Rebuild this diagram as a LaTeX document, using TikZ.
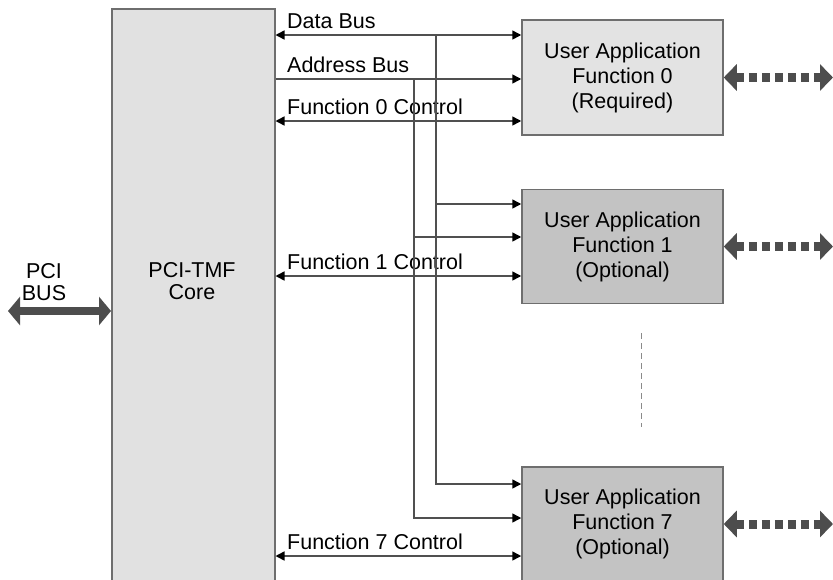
\documentclass[tikz,border=0pt]{standalone}
\usepackage{fontspec}
\setmainfont{Liberation Sans}
\usetikzlibrary{arrows.meta,positioning}
\definecolor{coregray}{HTML}{E1E1E1}
\definecolor{reqgray}{HTML}{E3E3E3}
\definecolor{optgray}{HTML}{C3C3C3}
\definecolor{edgegray}{HTML}{6E6E6E}
\definecolor{linegray}{HTML}{505050}
\definecolor{extgray}{HTML}{4D4D4D}
\definecolor{dotgray}{HTML}{8A8A8A}
\tikzset{
  ubox/.style={draw=edgegray, line width=1.5pt, minimum width=201pt, minimum height=115pt, inner sep=0pt, align=center},
  bus/.style={draw=linegray, line width=1.5pt},
  onearr/.style={-{Triangle[length=9pt,width=9pt,color=black]}},
  twoarr/.style={{Triangle[length=9pt,width=9pt,color=black]}-{Triangle[length=9pt,width=9pt,color=black]}},
  lbl/.style={anchor=base west, inner sep=0pt},
  ext/.style={draw=extgray, line width=9pt, dash pattern=on 8pt off 5pt, {Triangle[length=13pt,width=26pt,color=extgray]}-{Triangle[length=13pt,width=26pt,color=extgray]}},
  pci/.style={draw=extgray, line width=8pt, {Triangle[length=12pt,width=28pt,color=extgray]}-{Triangle[length=12pt,width=28pt,color=extgray]}}
}
\begin{document}
\begin{tikzpicture}[x=1pt,y=-1pt,font=\fontsize{21.5pt}{25pt}\selectfont]
 \useasboundingbox (0,0) rectangle (833,579);
 \clip (0,0) rectangle (833,579);
% nodes
 \node[draw=edgegray, fill=coregray, line width=1.5pt, minimum width=163pt, minimum height=600pt, anchor=north west, inner sep=0pt] (core) at (111,8) {};
 \node[align=center, font=\fontsize{21.5pt}{22pt}\selectfont] (coretext) at (192,281) {PCI-TMF\\Core};
 \node[align=center, font=\fontsize{21.5pt}{22pt}\selectfont] (pcitext) at (44,282) {PCI\\BUS};

 \node[ubox, fill=reqgray] (f0) at (622.5,77.5) {User Application\\Function 0\\(Required)};
 \node[ubox, fill=optgray, below=53pt of f0, minimum height=114pt] (f1) {User Application\\Function 1\\(Optional)};
 \node[ubox, fill=optgray, below=162pt of f1, minimum height=114pt] (f7) {User Application\\Function 7\\(Optional)};

 \coordinate (dbus) at (436,35);
 \coordinate (abus) at (414,79);
 \coordinate (pcil) at (8,311);
 \coordinate (gapt) at (641.5,333);
 \coordinate (gapb) at (641.5,427);

% labels
 \node[lbl] (ldata) at (287,28) {Data Bus};
 \node[lbl] (laddr) at (287,72) {Address Bus};
 \node[lbl] (lc0) at (287,114) {Function 0 Control};
 \node[lbl] (lc1) at (287,269) {Function 1 Control};
 \node[lbl] (lc7) at (287,549) {Function 7 Control};

% edges
 \draw[bus,twoarr] (core.east |- dbus) -- (f0.west |- dbus);
 \draw[bus,onearr] (core.east |- abus) -- (f0.west |- abus);
 \draw[bus,twoarr] (core.east |- 0,121) -- (f0.west |- 0,121);
 \draw[bus,twoarr] (core.east |- 0,276) -- (f1.west |- 0,276);
 \draw[bus,twoarr] (core.east |- 0,556) -- (f7.west |- 0,556);

 \draw[bus,onearr] (dbus) |- (f1.west |- 0,204);
 \draw[bus,onearr] (dbus) |- (f7.west |- 0,484);
 \draw[bus,onearr] (abus) |- (f1.west |- 0,237);
 \draw[bus,onearr] (abus) |- (f7.west |- 0,518);

 \foreach \f in {f0,f1,f7}
   \draw[ext] (\f.east) -- (\f.east -| 833,0);
 \draw[pci] (pcil) -- (core.west |- pcil);
 \draw[dotgray, line width=1.5pt, dash pattern=on 6pt off 4pt] (gapt) -- (gapb);
\end{tikzpicture}
\end{document}
